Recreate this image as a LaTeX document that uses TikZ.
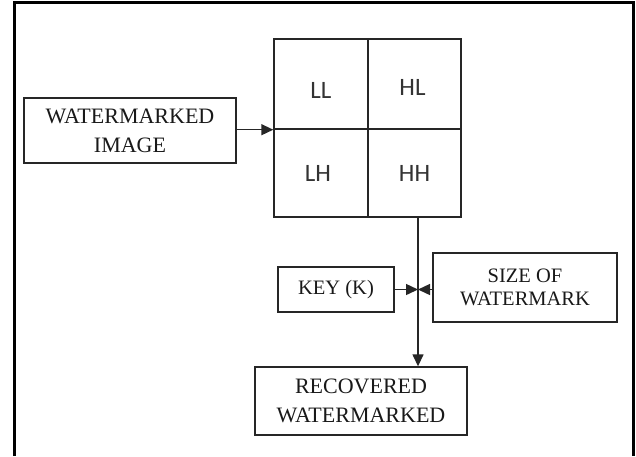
\documentclass[tikz,border=0pt]{standalone}
\usepackage{fontspec}
\setmainfont{Liberation Serif}
\newfontfamily\celfont{Carlito}
\usetikzlibrary{arrows.meta, positioning, calc}
\tikzset{
  bx/.style = {draw=black!85, fill=white, text=black!90, align=center,
    inner sep=0pt, line width=1.4pt},
  bxa/.style = {bx, font=\fontsize{22}{29}\selectfont},
  bxb/.style = {bx, font=\fontsize{20.5}{23}\selectfont},
  cel/.style = {draw=black!85, inner sep=0pt, line width=1.4pt,
    minimum width=93pt},
  ctx/.style = {font=\celfont\fontsize{25}{27}\selectfont, text=black!80},
  frm/.style = {draw=black, line width=3pt},
  seta/.style = {-{Triangle[length=12pt, width=11pt]}, line width=1.4pt,
    draw=black!85}
}

\begin{document}
\begin{tikzpicture}[x=1pt, y=-1pt]
  \useasboundingbox [fill=white] (0,0) rectangle (636,456);
  \draw [frm] (14,456) -- (14,2.5) -- (633,2.5) -- (633,456);

  \node [bxa, minimum width=212pt, minimum height=65pt] (img) at (130,130.5)
    {WATERMARKED\\IMAGE};

  \node [cel, minimum height=90pt, minimum width=94pt] (ll) at (321,84) {};
  \node [cel, minimum height=90pt] (hl) at (414.5,84) {};
  \node [cel, minimum height=88pt, minimum width=94pt] (lh) at (321,173) {};
  \node [cel, minimum height=88pt] (hh) at (414.5,173) {};
  \node [ctx] (tll) at ([yshift=-6pt]ll.center) {LL};
  \node [ctx] (thl) at ([xshift=-2pt, yshift=-3pt]hl.center) {HL};
  \node [ctx] (tlh) at ([xshift=-3pt]lh.center) {LH};
  \node [ctx] (thh) at (hh.center) {HH};

  \node [bxb, minimum width=116pt, minimum height=45pt] (key) at (336,289.5)
    {KEY (K)};
  \node [bxb, minimum width=184pt, minimum height=69pt] (sz) at (525,287.5)
    {SIZE OF\\WATERMARK};
  \node [bxa, minimum width=212pt, minimum height=68pt] (rec) at (361,401)
    {RECOVERED\\WATERMARKED};

  \coordinate (dn) at (418,217);
  \coordinate (jn) at (418,289.5);

  \draw [seta] (img.east |- ll.south west) -- (ll.south west);
  \draw [seta] (dn) -- (dn |- rec.north);
  \draw [seta] (key.east) -- (jn);
  \draw [seta] (sz.west |- jn) -- (jn);
\end{tikzpicture}
\end{document}
